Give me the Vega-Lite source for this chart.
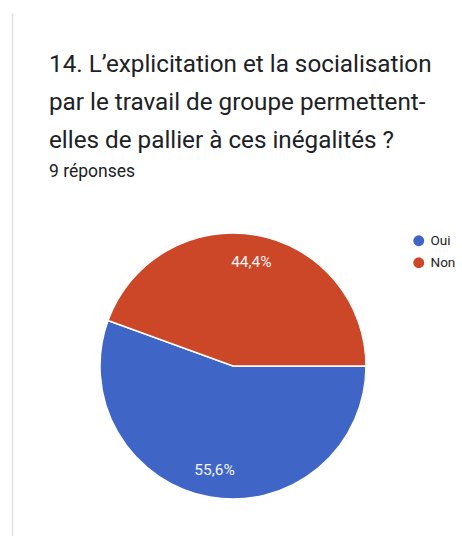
{
  "$schema": "https://vega.github.io/schema/vega-lite/v6.json",
  "autosize": {"type": "none"},
  "width": 442,
  "height": 340,
  "padding": {"left": 12, "top": 196, "right": 8, "bottom": 0},
  "background": "#ffffff",
  "config": {
    "view": {"stroke": null},
    "font": "Roboto"
  },
  "title": {
    "text": ["14. L’explicitation et la socialisation", "par le travail de groupe permettent-", "elles de pallier à ces inégalités ?"],
    "subtitle": "9 réponses",
    "anchor": "start",
    "frame": "group",
    "dx": 37,
    "offset": -170,
    "font": "Roboto",
    "fontSize": 24.25,
    "fontWeight": "normal",
    "color": "#202124",
    "lineHeight": 38,
    "subtitleFont": "Roboto",
    "subtitleFontSize": 17.5,
    "subtitleColor": "#202124",
    "subtitlePadding": 10
  },
  "data": {
    "values": [
      {"answer": "Oui", "count": 5, "label": "55,6%"},
      {"answer": "Non", "count": 4, "label": "44,4%"}
    ]
  },
  "layer": [
    {
      "mark": {"type": "arc", "outerRadius": 133, "stroke": "#ffffff", "strokeWidth": 1.5},
      "encoding": {
        "theta": {"field": "count", "type": "quantitative", "stack": true, "scale": {"range": [1.5708, 7.854]}},
        "order": {"field": "answer", "sort": "descending"},
        "color": {
          "field": "answer",
          "type": "nominal",
          "scale": {"domain": ["Oui", "Non"], "range": ["#3f65c7", "#cb4727"]},
          "legend": {
            "title": null,
            "orient": "none",
            "legendX": 400,
            "legendY": 38,
            "padding": 0,
            "symbolType": "circle",
            "symbolSize": 120,
            "symbolStrokeWidth": 0,
            "labelFont": "Roboto",
            "labelFontSize": 13.5,
            "labelColor": "#222222",
            "labelOffset": 5,
            "rowPadding": 7
          }
        }
      }
    },
    {
      "mark": {"type": "text", "radius": 106, "font": "Roboto", "fontSize": 15.5, "fill": "#f4f4f4"},
      "encoding": {
        "theta": {"field": "count", "type": "quantitative", "stack": true},
        "order": {"field": "answer", "sort": "descending"},
        "text": {"field": "label", "type": "nominal"}
      }
    },
    {
      "mark": {"type": "point", "opacity": 0},
      "encoding": {
        "y": {
          "field": "count",
          "type": "quantitative",
          "scale": {"range": [340, -183], "zero": true},
          "axis": {"title": null, "labels": false, "ticks": false, "grid": false, "domain": true, "domainColor": "#e0e0e0", "domainWidth": 1.5}
        }
      }
    }
  ]
}
